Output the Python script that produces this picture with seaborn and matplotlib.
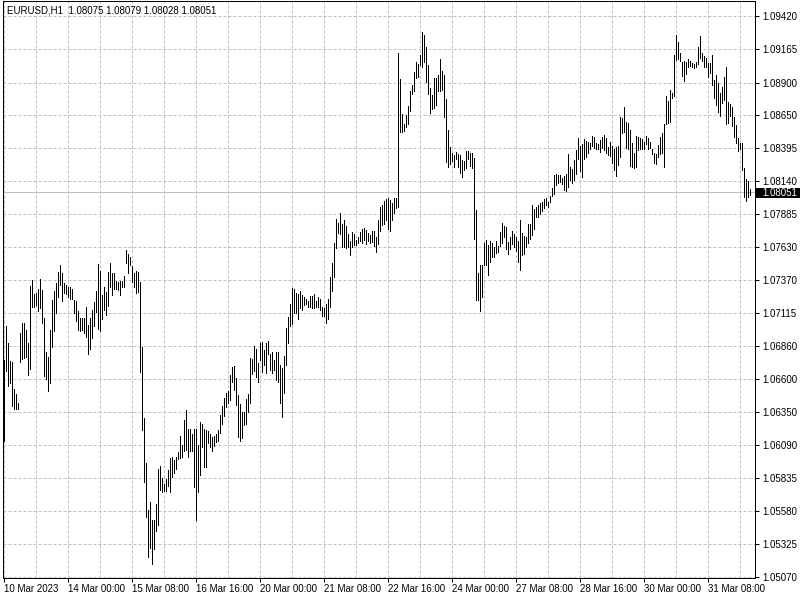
import numpy as np
import pandas as pd
import matplotlib
matplotlib.use("Agg")
import matplotlib.pyplot as plt
import seaborn as sns
from matplotlib.patches import Rectangle
from matplotlib.ticker import FixedLocator

# ---------------- data ----------------
symbol = "EURUSD,H1"
last_ohlc = ["1.08075", "1.08079", "1.08028", "1.08051"]
last_close = 1.08051

highs = [
    1.06750, 1.07013, 1.06882, 1.06742, 1.06734, 1.06525, 1.06487, 1.06417, 1.06960, 1.07037,
    1.07037, 1.06983, 1.06882, 1.07324, 1.07371, 1.07262, 1.07270, 1.07301, 1.07378, 1.07293,
    1.07076, 1.06812, 1.06774, 1.06983, 1.07216, 1.07285, 1.07348, 1.07432, 1.07487, 1.07425,
    1.07348, 1.07332, 1.07317, 1.07317, 1.07301, 1.07216, 1.07208, 1.07130, 1.07076, 1.07076,
    1.07076, 1.07162, 1.07021, 1.07076, 1.07138, 1.07200, 1.07285, 1.07495, 1.07440, 1.07254,
    1.07317, 1.07277, 1.07432, 1.07503, 1.07425, 1.07425, 1.07363, 1.07355, 1.07363, 1.07363,
    1.07401, 1.07603, 1.07572, 1.07549, 1.07479, 1.07425, 1.07440, 1.07432, 1.07355, 1.06851,
    1.06301, 1.05952, 1.05587, 1.05649, 1.05510, 1.05510, 1.05634, 1.05905, 1.05928, 1.05836,
    1.05789, 1.05828, 1.05897, 1.05991, 1.05998, 1.05975, 1.05998, 1.06036, 1.06161, 1.06091,
    1.06285, 1.06363, 1.06216, 1.06216, 1.06177, 1.06216, 1.06216, 1.06091, 1.06269, 1.06254,
    1.06216, 1.06208, 1.06200, 1.06177, 1.06153, 1.06161, 1.06177, 1.06208, 1.06324, 1.06393,
    1.06456, 1.06495, 1.06510, 1.06634, 1.06696, 1.06704, 1.06611, 1.06479, 1.06409, 1.06347,
    1.06347, 1.06448, 1.06487, 1.06766, 1.06758, 1.06859, 1.06835, 1.06727, 1.06882, 1.06890,
    1.06828, 1.06882, 1.06897, 1.06797, 1.06812, 1.06750, 1.06812, 1.06812, 1.06711, 1.06688,
    1.06781, 1.06998, 1.07083, 1.07185, 1.07308, 1.07301, 1.07270, 1.07262, 1.07285, 1.07254,
    1.07239, 1.07223, 1.07208, 1.07246, 1.07246, 1.07262, 1.07208, 1.07239, 1.07223, 1.07162,
    1.07154, 1.07185, 1.07223, 1.07394, 1.07503, 1.07657, 1.07844, 1.07813, 1.07890, 1.07805,
    1.07836, 1.07789, 1.07727, 1.07673, 1.07742, 1.07727, 1.07681, 1.07704, 1.07742, 1.07766,
    1.07774, 1.07758, 1.07735, 1.07720, 1.07751, 1.07751, 1.07704, 1.07836, 1.07937, 1.07952,
    1.07983, 1.07999, 1.08007, 1.07991, 1.07968, 1.08007, 1.08007, 1.09131, 1.08929, 1.08658,
    1.08580, 1.08650, 1.08719, 1.08836, 1.08882, 1.08983, 1.09060, 1.09045, 1.09115, 1.09293,
    1.09270, 1.09178, 1.09037, 1.08859, 1.08805, 1.08937, 1.08937, 1.08960, 1.09084, 1.08991,
    1.08960, 1.08774, 1.08534, 1.08402, 1.08356, 1.08340, 1.08363, 1.08348, 1.08340, 1.08301,
    1.08293, 1.08371, 1.08371, 1.08356, 1.08356, 1.08317, 1.07913, 1.07425, 1.07487, 1.07487,
    1.07658, 1.07681, 1.07642, 1.07673, 1.07658, 1.07627, 1.07673, 1.07634, 1.07742, 1.07813,
    1.07789, 1.07781, 1.07665, 1.07704, 1.07751, 1.07727, 1.07704, 1.07673, 1.07836, 1.07735,
    1.07712, 1.07704, 1.07805, 1.07805, 1.07952, 1.07921, 1.07937, 1.07952, 1.07968, 1.07976,
    1.07999, 1.08007, 1.07976, 1.08022, 1.08084, 1.08185, 1.08193, 1.08185, 1.08185, 1.08162,
    1.08177, 1.08193, 1.08348, 1.08247, 1.08232, 1.08301, 1.08379, 1.08472, 1.08410, 1.08425,
    1.08464, 1.08448, 1.08441, 1.08433, 1.08487, 1.08479, 1.08433, 1.08425, 1.08456, 1.08479,
    1.08495, 1.08472, 1.08402, 1.08441, 1.08410, 1.08386, 1.08402, 1.08410, 1.08634, 1.08627,
    1.08712, 1.08595, 1.08588, 1.08534, 1.08433, 1.08356, 1.08487, 1.08479, 1.08472, 1.08464,
    1.08441, 1.08487, 1.08472, 1.08441, 1.08386, 1.08356, 1.08348, 1.08417, 1.08479, 1.08510,
    1.08580, 1.08797, 1.08758, 1.08844, 1.08821, 1.09115, 1.09270, 1.09216, 1.09131, 1.09060,
    1.09069, 1.09060, 1.09084, 1.09069, 1.09053, 1.09045, 1.09060, 1.09178, 1.09262, 1.09131,
    1.09107, 1.09092, 1.09053, 1.09053, 1.09115, 1.08921, 1.08960, 1.08898, 1.08821, 1.08867,
    1.08945, 1.09022, 1.08751, 1.08735, 1.08712, 1.08634, 1.08572, 1.08472, 1.08433, 1.08433,
    1.08239, 1.08154, 1.08139, 1.08079,
]

lows = [
    1.06122, 1.06665, 1.06548, 1.06572, 1.06393, 1.06370, 1.06370, 1.06370, 1.06734, 1.06758,
    1.06766, 1.06774, 1.06634, 1.06680, 1.07162, 1.07162, 1.07177, 1.07130, 1.07154, 1.07037,
    1.06626, 1.06603, 1.06510, 1.06572, 1.06851, 1.06975, 1.07115, 1.07239, 1.07332, 1.07208,
    1.07270, 1.07262, 1.07239, 1.07223, 1.07223, 1.07115, 1.07052, 1.06983, 1.06975, 1.06983,
    1.06960, 1.06929, 1.06797, 1.06835, 1.06921, 1.07013, 1.07122, 1.06990, 1.06975, 1.07068,
    1.07138, 1.07099, 1.07169, 1.07317, 1.07254, 1.07301, 1.07301, 1.07293, 1.07254, 1.07317,
    1.07317, 1.07503, 1.07425, 1.07487, 1.07355, 1.07317, 1.07270, 1.07277, 1.06657, 1.06208,
    1.05804, 1.05533, 1.05223, 1.05292, 1.05168, 1.05284, 1.05424, 1.05471, 1.05742, 1.05726,
    1.05734, 1.05734, 1.05773, 1.05726, 1.05843, 1.05874, 1.05905, 1.05983, 1.05991, 1.05998,
    1.06044, 1.06052, 1.05998, 1.06044, 1.06044, 1.05766, 1.05510, 1.05726, 1.05858, 1.06076,
    1.05921, 1.05921, 1.06107, 1.06076, 1.06044, 1.06083, 1.06114, 1.06122, 1.06185, 1.06254,
    1.06316, 1.06386, 1.06417, 1.06440, 1.06580, 1.06518, 1.06401, 1.06153, 1.06122, 1.06146,
    1.06246, 1.06254, 1.06347, 1.06417, 1.06642, 1.06665, 1.06619, 1.06580, 1.06750, 1.06657,
    1.06711, 1.06650, 1.06797, 1.06673, 1.06650, 1.06673, 1.06595, 1.06580, 1.06417, 1.06308,
    1.06495, 1.06711, 1.06882, 1.07013, 1.07029, 1.07115, 1.07115, 1.07068, 1.07154, 1.07138,
    1.07177, 1.07185, 1.07162, 1.07162, 1.07154, 1.07154, 1.07162, 1.07162, 1.07138, 1.07091,
    1.07091, 1.07037, 1.07068, 1.07162, 1.07285, 1.07394, 1.07619, 1.07735, 1.07727, 1.07627,
    1.07627, 1.07619, 1.07627, 1.07564, 1.07627, 1.07642, 1.07642, 1.07658, 1.07673, 1.07658,
    1.07681, 1.07650, 1.07673, 1.07658, 1.07665, 1.07634, 1.07588, 1.07650, 1.07751, 1.07797,
    1.07805, 1.07836, 1.07766, 1.07751, 1.07836, 1.07890, 1.07929, 1.07937, 1.08518, 1.08518,
    1.08526, 1.08557, 1.08580, 1.08681, 1.08813, 1.08836, 1.08937, 1.08945, 1.09037, 1.09022,
    1.09060, 1.08905, 1.08813, 1.08666, 1.08697, 1.08704, 1.08727, 1.08836, 1.08836, 1.08844,
    1.08634, 1.08286, 1.08247, 1.08270, 1.08293, 1.08247, 1.08309, 1.08247, 1.08201, 1.08170,
    1.08224, 1.08239, 1.08309, 1.08255, 1.08239, 1.07689, 1.07216, 1.07216, 1.07130, 1.07239,
    1.07487, 1.07487, 1.07409, 1.07510, 1.07549, 1.07549, 1.07580, 1.07588, 1.07634, 1.07658,
    1.07704, 1.07611, 1.07572, 1.07611, 1.07650, 1.07627, 1.07595, 1.07510, 1.07448, 1.07564,
    1.07572, 1.07627, 1.07658, 1.07689, 1.07720, 1.07766, 1.07859, 1.07859, 1.07882, 1.07906,
    1.07929, 1.07952, 1.07937, 1.07976, 1.08022, 1.08038, 1.08107, 1.08123, 1.08131, 1.08115,
    1.08068, 1.08061, 1.08092, 1.08146, 1.08123, 1.08146, 1.08193, 1.08309, 1.08216, 1.08170,
    1.08309, 1.08324, 1.08356, 1.08386, 1.08410, 1.08394, 1.08386, 1.08386, 1.08363, 1.08394,
    1.08379, 1.08356, 1.08340, 1.08332, 1.08278, 1.08224, 1.08177, 1.08262, 1.08324, 1.08510,
    1.08518, 1.08394, 1.08386, 1.08255, 1.08247, 1.08239, 1.08247, 1.08379, 1.08386, 1.08386,
    1.08386, 1.08425, 1.08386, 1.08394, 1.08348, 1.08278, 1.08270, 1.08324, 1.08348, 1.08356,
    1.08247, 1.08580, 1.08588, 1.08595, 1.08782, 1.08797, 1.09076, 1.09084, 1.09069, 1.08952,
    1.08914, 1.08968, 1.09022, 1.09030, 1.09022, 1.09014, 1.09022, 1.09045, 1.09092, 1.09069,
    1.09022, 1.09022, 1.08945, 1.08976, 1.08882, 1.08782, 1.08727, 1.08673, 1.08642, 1.08743,
    1.08766, 1.08580, 1.08588, 1.08642, 1.08565, 1.08479, 1.08433, 1.08371, 1.08386, 1.08224,
    1.08014, 1.07983, 1.08014, 1.08028,
]

y_tick_values = [1.09420, 1.09165, 1.08900, 1.08650, 1.08395, 1.08140, 1.07885, 1.07630,
                 1.07370, 1.07115, 1.06860, 1.06600, 1.06350, 1.06090, 1.05835, 1.05580,
                 1.05325, 1.05070]
x_tick_labels = ["10 Mar 2023", "14 Mar 00:00", "15 Mar 08:00", "16 Mar 16:00",
                 "20 Mar 00:00", "21 Mar 08:00", "22 Mar 16:00", "24 Mar 00:00",
                 "27 Mar 08:00", "28 Mar 16:00", "30 Mar 00:00", "31 Mar 08:00"]
bars_per_label = 32
bars_per_grid = 16

assert len(highs) == len(lows)
n = len(highs)

# ---------------- style ----------------
sns.set_theme(style="white")
plt.rcParams['font.family'] = ['Liberation Sans', 'DejaVu Sans']
plt.rcParams['axes.linewidth'] = 0.72
FS = 7
PX = 0.72  # one pixel in points at 100 dpi

df = pd.DataFrame({
    "bar": np.repeat(np.arange(n), 2),
    "price": np.column_stack([lows, highs]).ravel(),
})

fig = plt.figure(figsize=(8, 6), dpi=100)
fig.patch.set_facecolor("white")
ax = fig.add_axes([2.5 / 800, 22.5 / 600, 752 / 800, 576.5 / 600])
ax.set_facecolor("white")

sns.lineplot(data=df, x="bar", y="price", units="bar", estimator=None, sort=False,
             color="black", linewidth=PX, antialiased=False, ax=ax, legend=False,
             zorder=3)

ax.axhline(last_close, color="#c0c0c0", linewidth=PX, zorder=2)

ax.set_xlim(-0.5, 375.5)
ax.set_ylim(1.05064, 1.09534)

# y axis on right
ax.yaxis.tick_right()
ax.yaxis.set_major_locator(FixedLocator(y_tick_values))
ax.set_yticklabels([f"{v:.5f}" for v in y_tick_values])
ax.tick_params(axis="y", which="major", direction="out", length=4 * PX, width=PX,
               color="black", pad=3, labelsize=FS, labelcolor="black", right=True, left=False)

# x axis
x_major = [i * bars_per_label for i in range(len(x_tick_labels))]
ax.set_xticks(x_major)
ax.set_xticklabels(x_tick_labels, ha="left")
ax.set_xticks(list(range(0, n + 2, bars_per_grid)), minor=True)
ax.tick_params(axis="x", which="major", direction="out", length=4 * PX, width=PX,
               color="black", pad=1.5, labelsize=FS, labelcolor="black", bottom=True)
ax.tick_params(axis="x", which="minor", length=0)

ax.set_xlabel("")
ax.set_ylabel("")

grid_kw = dict(color="#c0c0c0", linestyle=(0, (3, 2)), linewidth=PX)
ax.grid(True, axis="x", which="both", **grid_kw)
ax.grid(True, axis="y", which="major", **grid_kw)
ax.set_axisbelow(True)

for s in ax.spines.values():
    s.set_color("black")
    s.set_linewidth(PX)
    s.set_visible(True)

# header text
fig.text(7 / 800, 1 - 10.5 / 600,
         symbol + "  " + " ".join(last_ohlc),
         fontsize=FS, color="black", ha="left", va="center")

# current price label box
fig.patches.append(Rectangle((755 / 800, (600 - 197.5) / 600), 45 / 800, 10 / 600,
                             transform=fig.transFigure, facecolor="black",
                             edgecolor="none", zorder=5))
fig.text(762 / 800, 1 - 192.5 / 600, f"{last_close:.5f}", fontsize=FS, color="white",
         ha="left", va="center", zorder=6)

fig.savefig("out.png", dpi=100)
